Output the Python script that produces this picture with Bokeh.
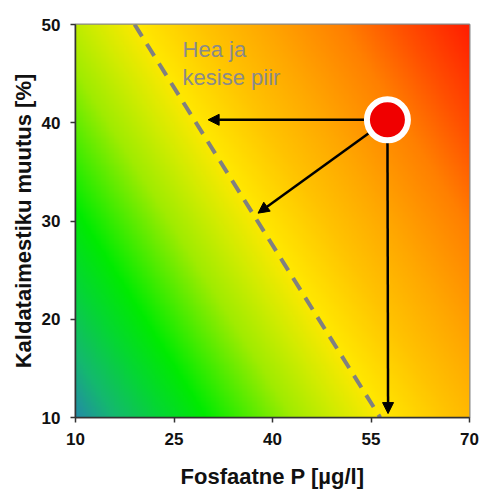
import numpy as np
from bokeh.plotting import figure
from bokeh.models import Range1d, FixedTicker, Arrow, NormalHead, ColumnDataSource
from bokeh.core.properties import value
from bokeh.embed import file_html
from bokeh.resources import INLINE

# ---- data ----
x_ticks = [10, 25, 40, 55, 70]
y_ticks = [10, 20, 30, 40, 50]
boundary_x = [19.0, 56.4]
boundary_y = [50, 10]
site_x = [57.5]
site_y = [40.3]
arrow_x_end = [30.2, 37.8, 57.6]
arrow_y_end = [40.3, 30.8, 10.4]
label_lines = ["Hea ja", "kesise piir"]
label_x = [26.3, 26.3]
label_y = [47.45, 44.6]

# background colour stops (position along the gradient, r, g, b)
grad_pos = [0.00, 0.10, 0.22, 0.33, 0.55, 0.68, 0.78, 0.95, 1.10, 1.30, 1.45, 1.623]
grad_r = [35, 20, 5, 0, 160, 215, 255, 255, 255, 255, 255, 255]
grad_g = [140, 185, 215, 235, 235, 235, 232, 195, 168, 128, 80, 30]
grad_b = [165, 110, 50, 0, 0, 0, 0, 0, 0, 0, 0, 0]

x0, x1 = 10, 70
y0, y1 = 10, 50

p = figure(width=480, height=492, output_backend="svg", toolbar_location=None,
           x_range=Range1d(x0, x1), y_range=Range1d(y0, y1),
           min_border_left=75, min_border_right=11, min_border_top=24, min_border_bottom=75)

# gradient background image
nx, ny = 240, 160
u = np.linspace(0, 1, nx)[None, :]
v = np.linspace(0, 1, ny)[:, None]
s = u + 0.623 * v
img = np.empty((ny, nx), dtype=np.uint32)
view = img.view(dtype=np.uint8).reshape((ny, nx, 4))
view[:, :, 0] = np.interp(s, grad_pos, grad_r).astype(np.uint8)
view[:, :, 1] = np.interp(s, grad_pos, grad_g).astype(np.uint8)
view[:, :, 2] = np.interp(s, grad_pos, grad_b).astype(np.uint8)
view[:, :, 3] = 255
p.image_rgba(image=[img], x=x0, y=y0, dw=x1 - x0, dh=y1 - y0)

# dashed boundary
p.line(boundary_x, boundary_y, line_color="#808080", line_width=4, line_dash="14 9")

# arrows
src = ColumnDataSource(dict(xs=site_x * 3, ys=site_y * 3, xe=arrow_x_end, ye=arrow_y_end))
p.add_layout(Arrow(end=NormalHead(size=11, fill_color="black", line_color="black", line_width=1),
                   x_start="xs", y_start="ys", x_end="xe", y_end="ye", source=src,
                   line_color="black", line_width=2.5))

# site marker (drawn above the arrows)
p.scatter(site_x, site_y, size=41, fill_color="#f00000", line_color="white", line_width=6,
          level="overlay")

# label
p.text(label_x, label_y, text=label_lines, text_font=value("Liberation Sans"),
       text_font_size="22px", text_color="#8a8a8a", text_baseline="alphabetic", text_align="left")

# axes
p.xaxis.ticker = FixedTicker(ticks=x_ticks)
p.yaxis.ticker = FixedTicker(ticks=y_ticks)
p.xaxis.axis_label = "Fosfaatne P [µg/l]"
p.yaxis.axis_label = "Kaldataimestiku muutus [%]"
for ax in (p.xaxis[0], p.yaxis[0]):
    ax.major_label_text_font = "Liberation Sans"
    ax.major_label_text_font_style = "bold"
    ax.major_label_text_font_size = "17px"
    ax.major_label_text_color = "#111111"
    ax.axis_label_text_font = "Liberation Sans"
    ax.axis_label_text_font_style = "bold"
    ax.axis_label_text_font_size = "22px"
    ax.axis_label_text_color = "#111111"
    ax.minor_tick_line_color = None
    ax.major_tick_in = 0
    ax.major_tick_out = 5
    ax.major_tick_line_color = "#333333"
    ax.major_tick_line_width = 1.5
    ax.axis_line_color = "#333333"
    ax.axis_line_width = 1.5
p.xaxis.major_label_standoff = 10
p.xaxis.axis_label_standoff = 16
p.yaxis.major_label_standoff = 10
p.yaxis.axis_label_standoff = 3

p.grid.visible = False
p.outline_line_color = "#888888"
p.outline_line_width = 2
p.background_fill_color = "white"
p.border_fill_color = "white"

open("out.html", "w").write(file_html(p, INLINE))
